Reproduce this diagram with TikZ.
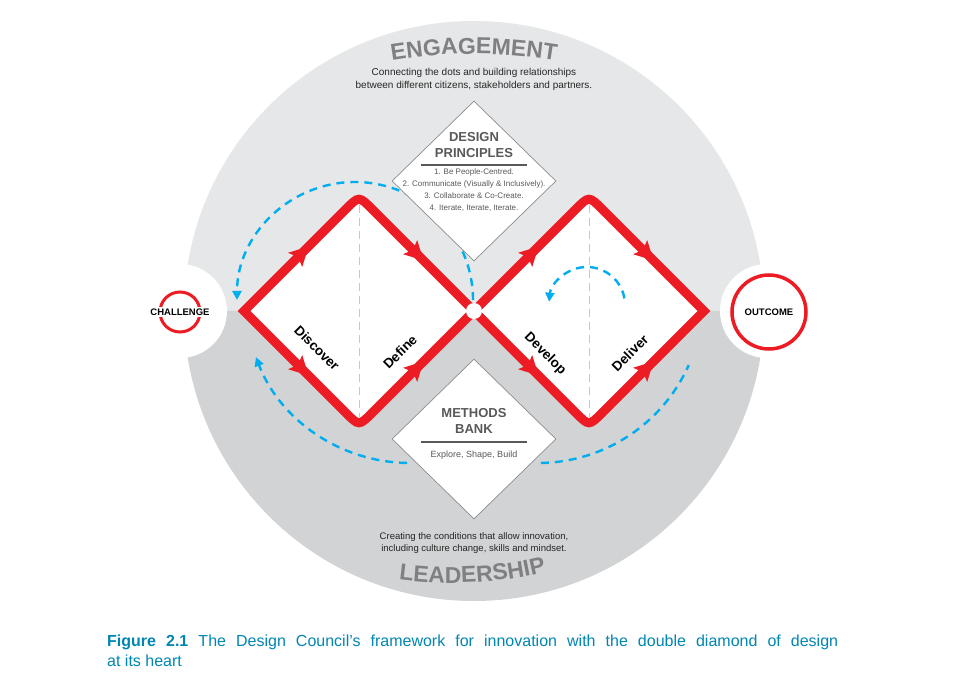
\documentclass[tikz,border=0pt]{standalone}
\usepackage{fontspec}
\setmainfont{Liberation Sans}
\usetikzlibrary{shapes.geometric, arrows.meta, positioning, calc, decorations.markings, decorations.text}

\definecolor{ddred}{RGB}{237,28,36}
\definecolor{engagefill}{RGB}{230,231,232}
\definecolor{leadfill}{RGB}{209,211,212}
\definecolor{bandgray}{RGB}{128,128,130}
\definecolor{headgray}{RGB}{88,89,91}
\definecolor{flowblue}{RGB}{0,174,239}
\definecolor{captionblue}{RGB}{0,134,179}

\newcommand\bandfont{\bfseries\fontsize{23}{23}\selectfont}

\tikzset{
  redline/.style = {
    draw=ddred, line width=9pt, line join=miter, fill=white
  },
  midtip/.style = {
    decoration={markings, mark=at position 0.5 with {
      \fill[ddred] (10pt,0pt) -- (-9pt,10pt) -- (-5pt,0pt) -- (-9pt,-10pt) -- cycle;}},
    decorate
  },
  flowline/.style = {
    draw=flowblue, line width=2.4pt, dash pattern=on 8pt off 6pt
  },
  flowtip/.style = {
    -{Triangle[length=9pt,width=9pt]}
  },
  centreline/.style = {
    draw=black!22, line width=0.8pt, dash pattern=on 8pt off 5pt
  },
  infobox/.style = {
    shape=diamond, draw=black!45, line width=0.7pt, fill=white,
    minimum width=164pt, minimum height=160pt, inner sep=0pt
  },
  boxhead/.style = {
    align=center, text=headgray, inner sep=0pt,
    font=\bfseries\fontsize{13}{16}\selectfont
  },
  boxrule/.style = {
    draw=headgray, line width=2pt
  },
  boxtext/.style = {
    align=center, text=headgray, inner sep=0pt,
    font=\fontsize{8}{12}\selectfont
  },
  phase/.style = {
    inner sep=0pt, font=\bfseries\fontsize{13.5}{14}\selectfont
  },
  endlabel/.style = {
    inner sep=2pt, font=\bfseries\fontsize{9.5}{10}\selectfont
  },
  bandtext/.style = {
    align=center, inner sep=0pt, text=black!85
  },
  caption/.style = {
    text width=731pt, align=justify, inner sep=0pt, text=captionblue,
    font=\fontsize{16}{20}\selectfont
  }
}

\begin{document}
\begin{tikzpicture}[x=1pt, y=1pt]

  \useasboundingbox (-474,-366) rectangle (482,311);
  \fill[white] (-474,-366) rectangle (482,311);

  % Engagement and leadership halves
  \fill[engagefill] (-290,0) arc[start angle=180, end angle=0, radius=290] -- cycle;
  \fill[leadfill] (-290,0) arc[start angle=180, end angle=360, radius=290] -- cycle;

  \path[decorate, decoration={text along path, text align=center,
      text color=bandgray, text={|\bandfont|ENGAGEMENT}}]
    ($(0,-243)+(103:500)$) arc[start angle=103, end angle=77, radius=500];
  \path[decorate, decoration={text along path, text align=center,
      text color=bandgray, text={|\bandfont|LEADERSHIP}}]
    ($(-22,128)+(250:400)$) arc[start angle=250, end angle=296, radius=400];

  \node[bandtext, font=\fontsize{10}{13}\selectfont] (engagenote) at (0,232)
    {Connecting the dots and building relationships\\between different citizens, stakeholders and partners.};
  \node[bandtext, font=\fontsize{9.5}{12}\selectfont] (leadnote) at (0,-232)
    {Creating the conditions that allow innovation,\\including culture change, skills and mindset.};

  % Feedback loops (behind the boxes)
  \draw[flowline, flowtip] (-1,11) arc[start angle=0, end angle=180, radius=118];
  \draw[flowline, flowtip] ($(-64,13)+(269:165)$) arc[start angle=269, end angle=201, radius=165];
  \draw[flowline] ($(64,13)+(271:165)$) arc[start angle=271, end angle=336, radius=165];

  % Challenge and outcome
  \fill[white] (-294,0) circle[radius=47];
  \draw[ddred, line width=3pt] (-294,-1) circle[radius=20];
  \node[endlabel, fill=white] (challenge) at (-294,-1) {CHALLENGE};

  \fill[white] (293,0) circle[radius=47];
  \draw[ddred, line width=3.5pt] (295,-1) circle[radius=37];
  \node[endlabel] (outcome) at (295,-1) {OUTCOME};

  % Double diamond
  \coordinate (L) at (-230,0);
  \coordinate (T1) at (-115,115);
  \coordinate (B1) at (-115,-115);
  \coordinate (M) at (0,0);
  \coordinate (T2) at (115,115);
  \coordinate (B2) at (115,-115);
  \coordinate (R) at (230,0);

  \draw[redline] (L) -- ($(T1)+(-13,-13)$) .. controls (T1) .. ($(T1)+(13,-13)$)
    -- (M) -- ($(B1)+(13,13)$) .. controls (B1) .. ($(B1)+(-13,13)$) -- cycle;
  \draw[redline] (M) -- ($(T2)+(-13,-13)$) .. controls (T2) .. ($(T2)+(13,-13)$)
    -- (R) -- ($(B2)+(13,13)$) .. controls (B2) .. ($(B2)+(-13,13)$) -- cycle;

  \draw[centreline] (-115,106) -- (-115,-106);
  \draw[centreline] (115,106) -- (115,-106);

  \foreach \a/\b in {L/T1, T1/M, L/B1, B1/M, M/T2, T2/R, M/B2, B2/R}
    \path[midtip] (\a) -- (\b);

  \fill[white] (M) circle[radius=8];

  \draw[flowline, flowtip] ($(113,6)+(10:38)$) arc[start angle=10, end angle=175, radius=38];

  \node[phase, rotate=-45] (discover) at (-157,-37) {Discover};
  \node[phase, rotate=45] (define) at (-74,-41) {Define};
  \node[phase, rotate=-45] (develop) at (71,-43) {Develop};
  \node[phase, rotate=45] (deliver) at (156,-42) {Deliver};

  % Design principles
  \node[infobox] (principles) at (0,130) {};
  \node[boxhead] (principlestitle) at (0,166) {DESIGN\\PRINCIPLES};
  \draw[boxrule] (-53,146) -- (53,146);
  \node[boxtext] (principleslist) at (0,121)
    {1. Be People-Centred.\\2. Communicate (Visually \& Inclusively).\\3. Collaborate \& Co-Create.\\4. Iterate, Iterate, Iterate.};

  % Methods bank
  \node[infobox] (methods) at (0,-128) {};
  \node[boxhead] (methodstitle) at (0,-110) {METHODS\\BANK};
  \draw[boxrule] (-53,-131) -- (53,-131);
  \node[boxtext, font=\fontsize{9}{11}\selectfont] (methodslist) at (0,-144) {Explore, Shape, Build};

  % Caption
  \node[caption, anchor=north west] (figcaption) at (-367,-324)
    {\textbf{Figure 2.1} The Design Council’s framework for innovation with the double diamond of design\linebreak at its heart};

\end{tikzpicture}
\end{document}
